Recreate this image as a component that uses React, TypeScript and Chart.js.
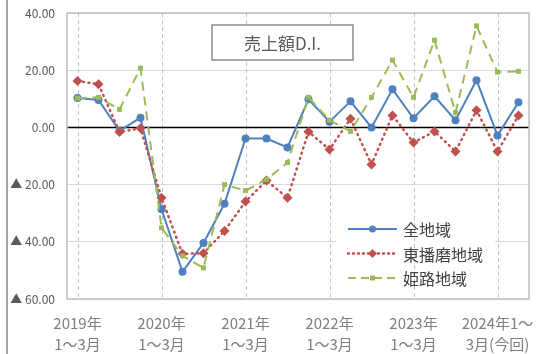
import React, { useEffect, useRef } from 'react';
import { Chart, registerables } from 'chart.js';

Chart.register(...registerables);

// Quarterly survey periods (last one is the outlook for the next quarter)
const quarters = [
  '2019年1～3月', '2019年4～6月', '2019年7～9月', '2019年10～12月',
  '2020年1～3月', '2020年4～6月', '2020年7～9月', '2020年10～12月',
  '2021年1～3月', '2021年4～6月', '2021年7～9月', '2021年10～12月',
  '2022年1～3月', '2022年4～6月', '2022年7～9月', '2022年10～12月',
  '2023年1～3月', '2023年4～6月', '2023年7～9月', '2023年10～12月',
  '2024年1～3月', '2024年4～6月',
];

// Axis labels shown every fourth quarter
const axisLabels = [
  ['2019年', '1～3月'],
  ['2020年', '1～3月'],
  ['2021年', '1～3月'],
  ['2022年', '1～3月'],
  ['2023年', '1～3月'],
  ['2024年1～', '3月(今回)'],
];
const labelEvery = 4;

const allRegion = [10.3, 9.6, -1.2, 3.4, -28.6, -50.5, -40.4, -26.7, -3.9, -3.9, -7.0, 9.8, 2.0, 9.1, 0.0, 13.3, 3.2, 10.9, 2.5, 16.5, -2.8, 8.8];
const eastHarima = [16.2, 15.1, -1.6, -0.3, -24.6, -44.2, -44.0, -36.2, -25.9, -18.6, -24.6, -1.5, -7.7, 3.0, -13.0, 4.2, -5.3, -1.4, -8.4, 6.0, -8.4, 4.2];
const himeji = [10.2, 10.5, 6.3, 20.7, -35.1, -44.9, -49.1, -20.0, -22.1, -18.2, -12.3, 10.5, 2.5, -1.4, 10.5, 23.5, 10.5, 30.5, 5.2, 35.5, 19.3, 19.6];

const yTicks = { min: -60, max: 40, step: 20 };
const chartTitle = '売上額D.I.';

const FONT = '"Noto Sans CJK JP", "Noto Sans", sans-serif';
const BLUE = '#4F81BD';
const RED = '#C0504D';
const GREEN = '#9BBB59';

type LegendItem = { label: string; color: string; dash: number[]; width: number; cap: CanvasLineCap; style: string; radius: number };

const legendItems: LegendItem[] = [
  { label: '全地域', color: BLUE, dash: [], width: 2, cap: 'butt', style: 'circle', radius: 3.5 },
  { label: '東播磨地域', color: RED, dash: [1, 4], width: 2.5, cap: 'round', style: 'diamond', radius: 4.5 },
  { label: '姫路地域', color: GREEN, dash: [8, 5], width: 2, cap: 'butt', style: 'square', radius: 2.5 },
];

function drawMarker(ctx: CanvasRenderingContext2D, style: string, x: number, y: number, r: number, color: string) {
  ctx.save();
  ctx.fillStyle = color;
  ctx.beginPath();
  if (style === 'circle') {
    ctx.arc(x, y, r, 0, Math.PI * 2);
  } else if (style === 'diamond') {
    ctx.moveTo(x, y - r);
    ctx.lineTo(x + r, y);
    ctx.lineTo(x, y + r);
    ctx.lineTo(x - r, y);
    ctx.closePath();
  } else {
    ctx.rect(x - r, y - r, r * 2, r * 2);
  }
  ctx.fill();
  ctx.restore();
}

const decorPlugin = {
  id: 'decor',
  beforeDatasetsDraw(chart: any) {
    const { ctx, chartArea, scales } = chart;
    const { left, right, top, bottom } = chartArea;

    // legend background hides the horizontal grid behind it
    const lgLeft = right - 193;
    const lgTop = bottom - 94;
    ctx.save();
    ctx.fillStyle = '#ffffff';
    ctx.fillRect(lgLeft, lgTop, 159, 91);
    ctx.restore();

    // dashed year separators
    const xs = scales.x;
    ctx.save();
    ctx.strokeStyle = '#c4c4c4';
    ctx.lineWidth = 1;
    ctx.setLineDash([4, 3]);
    for (let i = 0; i < quarters.length; i += labelEvery) {
      const px = Math.round(xs.getPixelForValue(i)) + 0.5;
      ctx.beginPath();
      ctx.moveTo(px, top);
      ctx.lineTo(px, bottom);
      ctx.stroke();
    }
    ctx.restore();

    // zero line
    const y0 = scales.y.getPixelForValue(0);
    ctx.save();
    ctx.strokeStyle = '#000000';
    ctx.lineWidth = 1.5;
    ctx.beginPath();
    ctx.moveTo(left, y0);
    ctx.lineTo(right, y0);
    ctx.stroke();
    ctx.restore();

    // plot frame
    ctx.save();
    ctx.strokeStyle = '#bfbfbf';
    ctx.lineWidth = 1.5;
    ctx.strokeRect(left, top, right - left, bottom - top);
    ctx.restore();

    // title box
    const bx = left + 145;
    const by = top + 12;
    const bw = 141;
    const bh = 35;
    ctx.save();
    ctx.fillStyle = '#ffffff';
    ctx.fillRect(bx, by, bw, bh);
    ctx.strokeStyle = '#8c8c8c';
    ctx.lineWidth = 1.5;
    ctx.strokeRect(bx, by, bw, bh);
    ctx.fillStyle = '#595959';
    ctx.font = `17px ${FONT}`;
    ctx.textAlign = 'center';
    ctx.textBaseline = 'middle';
    ctx.fillText(chartTitle, bx + bw / 2, by + bh / 2 + 1);
    ctx.restore();

    // outer frame line at the far left
    ctx.save();
    ctx.strokeStyle = '#a6a6a6';
    ctx.lineWidth = 2;
    ctx.beginPath();
    ctx.moveTo(7, 0);
    ctx.lineTo(7, chart.height);
    ctx.stroke();
    ctx.restore();
  },
  afterDatasetsDraw(chart: any) {
    const { ctx, chartArea } = chart;
    const { right, bottom } = chartArea;
    const x0 = right - 181;
    const x1 = right - 132;
    const xm = (x0 + x1) / 2;
    const baseY = bottom - 70;
    legendItems.forEach((item, i) => {
      const y = baseY + i * 24.5;
      ctx.save();
      ctx.strokeStyle = item.color;
      ctx.lineWidth = item.width;
      ctx.lineCap = item.cap;
      ctx.setLineDash(item.dash);
      ctx.beginPath();
      ctx.moveTo(x0, y);
      ctx.lineTo(x1, y);
      ctx.stroke();
      ctx.restore();
      drawMarker(ctx, item.style, xm, y, item.radius, item.color);
      ctx.save();
      ctx.fillStyle = '#404040';
      ctx.font = `16px ${FONT}`;
      ctx.textAlign = 'left';
      ctx.textBaseline = 'middle';
      ctx.fillText(item.label, x1 + 6, y + 1);
      ctx.restore();
    });
  },
};

export default function App() {
  const canvasRef = useRef<HTMLCanvasElement | null>(null);

  useEffect(() => {
    document.body.style.margin = '0';
    const canvas = canvasRef.current;
    if (!canvas) return;
    const chart = new Chart(canvas, {
      type: 'line',
      data: {
        labels: quarters,
        datasets: [
          {
            label: '全地域',
            data: allRegion,
            borderColor: BLUE,
            backgroundColor: BLUE,
            borderWidth: 2,
            pointStyle: 'circle',
            pointRadius: 4,
            pointBorderWidth: 0,
            tension: 0,
            order: 2,
          },
          {
            label: '東播磨地域',
            data: eastHarima,
            borderColor: RED,
            backgroundColor: RED,
            borderWidth: 2.5,
            borderDash: [1, 4.5],
            borderCapStyle: 'round',
            pointStyle: 'rectRot',
            pointRadius: 5,
            pointBorderWidth: 0,
            tension: 0,
            order: 1,
          },
          {
            label: '姫路地域',
            data: himeji,
            borderColor: GREEN,
            backgroundColor: GREEN,
            borderWidth: 2,
            borderDash: [9, 6],
            pointStyle: 'rect',
            pointRadius: 3.5,
            pointBorderWidth: 0,
            tension: 0,
            order: 0,
          },
        ],
      },
      options: {
        animation: false,
        responsive: false,
        maintainAspectRatio: false,
        layout: { padding: { top: 13, right: 10, left: 0, bottom: 0 } },
        plugins: {
          legend: { display: false },
          tooltip: { enabled: false },
          title: { display: false },
        },
        scales: {
          x: {
            type: 'category',
            offset: true,
            grid: { display: false },
            border: { display: false },
            ticks: {
              autoSkip: false,
              maxRotation: 0,
              minRotation: 0,
              padding: 6,
              color: '#7f7f7f',
              font: { family: FONT, size: 15, lineHeight: 1.4 },
              callback: (_v: any, i: number) => (i % labelEvery === 0 ? axisLabels[i / labelEvery] : ''),
            },
            afterFit: (s: any) => {
              s.height = 55;
              s.paddingLeft = 0;
              s.paddingRight = 0;
            },
          },
          y: {
            min: yTicks.min,
            max: yTicks.max,
            grid: {
              color: '#d9d9d9',
              lineWidth: 1,
              drawTicks: false,
            },
            border: { display: false },
            ticks: {
              stepSize: yTicks.step,
              padding: 12,
              color: '#595959',
              font: { family: FONT, size: 12 },
              callback: (v: any) => {
                const n = Number(v);
                return n < 0 ? '▲ ' + Math.abs(n).toFixed(2) : n.toFixed(2);
              },
            },
            afterFit: (s: any) => {
              s.width = 67;
              s.paddingTop = 0;
              s.paddingBottom = 0;
            },
          },
        },
      },
      plugins: [decorPlugin],
    });
    return () => chart.destroy();
  }, []);

  return (
    <div style={{ width: 539, height: 354, background: '#ffffff' }}>
      <canvas ref={canvasRef} width={539} height={354} style={{ display: 'block' }} />
    </div>
  );
}
